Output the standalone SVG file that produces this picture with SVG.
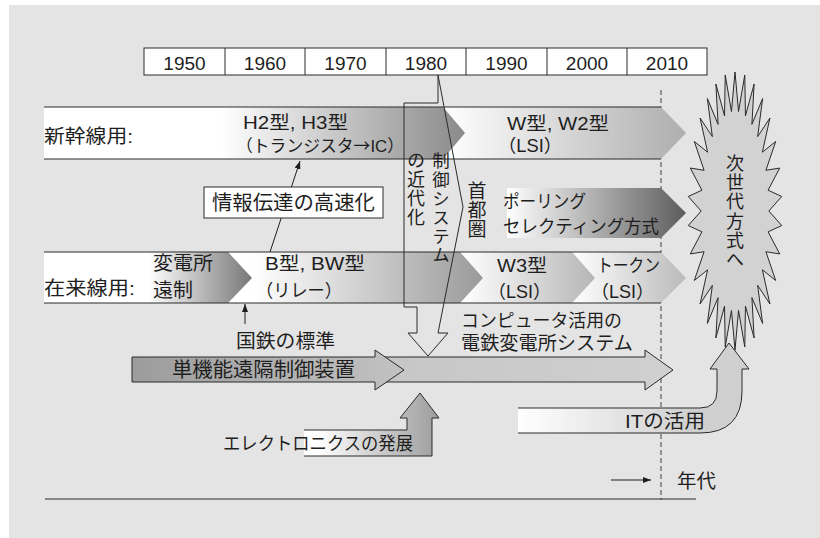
<svg xmlns="http://www.w3.org/2000/svg" width="820" height="538" viewBox="0 0 820 538">
<style>
text{font-family:"Liberation Sans","Noto Sans CJK JP",sans-serif;fill:#1e1e1e}
.y{font-size:19px;text-anchor:middle}
.t17{font-size:17px}
.t18{font-size:18px}
.t19{font-size:19px}
.t20{font-size:20px}
.v{writing-mode:vertical-rl;font-family:"Noto Sans CJK JP",sans-serif}
.cjk{font-family:"Noto Sans CJK JP",sans-serif}
.edge{stroke:#2a2a2a;stroke-width:1;fill:none}
.ol{stroke:#2a2a2a;stroke-width:1}
</style>
<defs>
<linearGradient id="g1" gradientUnits="userSpaceOnUse" x1="44" y1="0" x2="465" y2="0"><stop offset="0.42" stop-color="#fff"/><stop offset="1" stop-color="#8a8a8a"/></linearGradient>
<linearGradient id="g2" gradientUnits="userSpaceOnUse" x1="443" y1="0" x2="686" y2="0"><stop offset="0" stop-color="#fff"/><stop offset="1" stop-color="#aeaeae"/></linearGradient>
<linearGradient id="g3" gradientUnits="userSpaceOnUse" x1="44" y1="0" x2="252" y2="0"><stop offset="0.5" stop-color="#fff"/><stop offset="1" stop-color="#777"/></linearGradient>
<linearGradient id="g4" gradientUnits="userSpaceOnUse" x1="228" y1="0" x2="483" y2="0"><stop offset="0.1" stop-color="#fff"/><stop offset="1" stop-color="#9a9a9a"/></linearGradient>
<linearGradient id="g5" gradientUnits="userSpaceOnUse" x1="460" y1="0" x2="595" y2="0"><stop offset="0.05" stop-color="#fcfcfc"/><stop offset="1" stop-color="#b6b6b6"/></linearGradient>
<linearGradient id="g6" gradientUnits="userSpaceOnUse" x1="572" y1="0" x2="686" y2="0"><stop offset="0.05" stop-color="#fcfcfc"/><stop offset="1" stop-color="#bababa"/></linearGradient>
<linearGradient id="g7" gradientUnits="userSpaceOnUse" x1="507" y1="0" x2="686" y2="0"><stop offset="0" stop-color="#fff"/><stop offset="1" stop-color="#5c5c5c"/></linearGradient>
<linearGradient id="g8" gradientUnits="userSpaceOnUse" x1="132" y1="0" x2="404" y2="0"><stop offset="0" stop-color="#9c9c9c"/><stop offset="1" stop-color="#c2c2c2"/></linearGradient>
<linearGradient id="g9" gradientUnits="userSpaceOnUse" x1="375" y1="0" x2="673" y2="0"><stop offset="0" stop-color="#c6c6c6"/><stop offset="1" stop-color="#d0d0d0"/></linearGradient>
<linearGradient id="g10" gradientUnits="userSpaceOnUse" x1="518" y1="0" x2="749" y2="0"><stop offset="0" stop-color="#fff"/><stop offset="0.75" stop-color="#d0d0d0"/><stop offset="1" stop-color="#cfcfcf"/></linearGradient>
<linearGradient id="g11" gradientUnits="userSpaceOnUse" x1="304" y1="0" x2="439" y2="0"><stop offset="0.1" stop-color="#fff"/><stop offset="1" stop-color="#9c9c9c"/></linearGradient>
<marker id="ah" viewBox="0 0 8 6" refX="8" refY="3" markerWidth="8" markerHeight="6" markerUnits="userSpaceOnUse" orient="auto"><path d="M0,0 L8,3 L0,6 z" fill="#1e1e1e"/></marker>
</defs>

<rect x="0" y="0" width="820" height="538" fill="#fff"/>
<rect x="9" y="5" width="811" height="533" fill="#e4e4e4"/>

<line x1="661" y1="90" x2="661" y2="500" stroke="#444" stroke-width="1" stroke-dasharray="5,3"/>

<g id="shinkansen-band">
<polygon points="443,107 661,107 686,133 661,159 443,159" fill="url(#g2)"/>
<polygon points="44,107 443,107 465,133 443,159 44,159" fill="url(#g1)"/>
<line class="edge" x1="44" y1="107" x2="661" y2="107"/>
<line class="edge" x1="44" y1="159" x2="661" y2="159"/>
<text class="t19" x="44" y="143" textLength="89" lengthAdjust="spacingAndGlyphs">新幹線用:</text>
<text class="t18" x="243" y="129" textLength="105" lengthAdjust="spacingAndGlyphs">H2型, H3型</text>
<text class="t17" x="236" y="152" textLength="168" lengthAdjust="spacingAndGlyphs">（トランジスタ<tspan class="cjk">→</tspan>IC）</text>
<text class="t18" x="507" y="130" textLength="102" lengthAdjust="spacingAndGlyphs">W型, W2型</text>
<text class="t18" x="498" y="152" textLength="64" lengthAdjust="spacingAndGlyphs">（LSI）</text>
</g>

<g id="shutoken-band">
<polygon points="507,188 661,188 686,213 661,238 507,238" fill="url(#g7)"/>
<text class="t18" x="503" y="208" textLength="83" lengthAdjust="spacingAndGlyphs">ポーリング</text>
<text class="t18" x="503" y="233" textLength="156" lengthAdjust="spacingAndGlyphs">セレクティング方式</text>
</g>

<g id="zairaisen-band">
<polygon points="572,252 661,252 686,278 661,303 572,303" fill="url(#g6)"/>
<polygon points="460,252 572,252 595,278 572,303 460,303" fill="url(#g5)"/>
<polygon points="228,252 460,252 483,278 460,303 228,303" fill="url(#g4)"/>
<polygon points="44,252 228,252 252,278 228,303 44,303" fill="url(#g3)"/>
<line class="edge" x1="44" y1="252" x2="661" y2="252"/>
<line class="edge" x1="44" y1="303" x2="661" y2="303"/>
<text class="t19" x="44" y="295" textLength="91" lengthAdjust="spacingAndGlyphs">在来線用:</text>
<text class="t19" x="153" y="270" textLength="60" lengthAdjust="spacingAndGlyphs">変電所</text>
<text class="t19" x="153" y="297" textLength="40" lengthAdjust="spacingAndGlyphs">遠制</text>
<text class="t18" x="265" y="270" textLength="100" lengthAdjust="spacingAndGlyphs">B型, BW型</text>
<text class="t18" x="256" y="297" textLength="86" lengthAdjust="spacingAndGlyphs">（リレー）</text>
<text class="t18" x="497" y="272" textLength="50" lengthAdjust="spacingAndGlyphs">W3型</text>
<text class="t18" x="488" y="298" textLength="63" lengthAdjust="spacingAndGlyphs">（LSI）</text>
<text class="t18" x="597" y="272" textLength="63" lengthAdjust="spacingAndGlyphs">トークン</text>
<text class="t18" x="591" y="298" textLength="63" lengthAdjust="spacingAndGlyphs">（LSI）</text>
</g>

<g id="next-gen">
<polygon transform="translate(735,211) scale(47,139)" vector-effect="non-scaling-stroke" fill="#d2d2d2" stroke="#2a2a2a" stroke-width="1" points="0.72,0 0.9945,0.1045 0.7042,0.1497 0.9511,0.309 0.6577,0.2928 0.866,0.5 0.5825,0.4232 0.7431,0.6691 0.4818,0.535 0.5878,0.809 0.36,0.6235 0.4067,0.9135 0.2225,0.6848 0.2079,0.9781 0.0752,0.716 0,1 -0.0752,0.716 -0.2079,0.9781 -0.2225,0.6848 -0.4067,0.9135 -0.36,0.6235 -0.5878,0.809 -0.4818,0.535 -0.7431,0.6691 -0.5825,0.4232 -0.866,0.5 -0.6577,0.2928 -0.9511,0.309 -0.7042,0.1497 -0.9945,0.1045 -0.72,0 -0.9945,-0.1045 -0.7042,-0.1497 -0.9511,-0.309 -0.6577,-0.2928 -0.866,-0.5 -0.5825,-0.4232 -0.7431,-0.6691 -0.4818,-0.535 -0.5878,-0.809 -0.36,-0.6235 -0.4067,-0.9135 -0.2225,-0.6848 -0.2079,-0.9781 -0.0752,-0.716 0,-1 0.0752,-0.716 0.2079,-0.9781 0.2225,-0.6848 0.4067,-0.9135 0.36,-0.6235 0.5878,-0.809 0.4818,-0.535 0.7431,-0.6691 0.5825,-0.4232 0.866,-0.5 0.6577,-0.2928 0.9511,-0.309 0.7042,-0.1497 0.9945,-0.1045"/>
<text class="v" x="735" y="154" style="font-size:18px;letter-spacing:1.3px">次世代方式へ</text>
</g>

<g id="it-arrow">
<path d="M518,408 L700,408 Q717,408 717,391 L717,369 L710,369 L729,343 L749,369 L742,369 L742,391 Q742,433 700,433 L518,433" fill="url(#g10)" stroke="none"/>
<path class="edge" d="M518,408 L700,408 Q717,408 717,391 L717,369 L710,369 L729,343 L749,369 L742,369 L742,391 Q742,433 700,433 L518,433"/>
<text class="t19" x="625" y="428" textLength="80" lengthAdjust="spacingAndGlyphs">ITの活用</text>
</g>

<g id="computer-arrow">
<polygon class="ol" points="375,357 645,357 645,350 673,370 645,390 645,382 375,382" fill="url(#g9)"/>
<text class="t18" x="461" y="327" textLength="161" lengthAdjust="spacingAndGlyphs">コンピュータ活用の</text>
<text class="t19" x="461" y="350" textLength="172" lengthAdjust="spacingAndGlyphs">電鉄変電所システム</text>
</g>

<g id="single-function-arrow">
<polygon class="ol" points="132,357 375,357 375,350 404,370 375,390 375,382 132,382" fill="url(#g8)"/>
<text class="t20" x="172" y="377" textLength="183" lengthAdjust="spacingAndGlyphs">単機能遠隔制御装置</text>
</g>

<g id="electronics-arrow">
<path d="M304,430 L407,430 L407,418 L400,418 L420,393 L439,418 L432,418 L432,456 L304,456" fill="url(#g11)" stroke="none"/>
<path class="edge" d="M304,430 L407,430 L407,418 L400,418 L420,393 L439,418 L432,418 L432,456 L304,456"/>
<text class="t18" x="223" y="450" textLength="190" lengthAdjust="spacingAndGlyphs">エレクトロニクスの発展</text>
</g>

<g id="control-modernization">
<polygon class="edge" points="438,75 463,207 438,333 448,333 428,356 408,333 417,333 417,307 404,307 404,103 438,103"/>
<text class="v" x="416" y="151" style="font-size:18px;letter-spacing:1px">の近代化</text>
<text class="v" x="441" y="152" style="font-size:17.5px;letter-spacing:1.3px">制御システム</text>
<text class="v" x="477" y="181" style="font-size:19px">首都圏</text>
</g>

<g id="connectors">
<line x1="270" y1="252" x2="300" y2="161" stroke="#1e1e1e" stroke-width="1" marker-end="url(#ah)"/>
<line x1="245" y1="324" x2="245" y2="304" stroke="#1e1e1e" stroke-width="1" marker-end="url(#ah)"/>
<line x1="611" y1="480" x2="651" y2="480" stroke="#1e1e1e" stroke-width="1" marker-end="url(#ah)"/>
</g>

<g id="speedup-label">
<rect x="204" y="187" width="179" height="31" fill="#fff" stroke="#2a2a2a" stroke-width="1"/>
<text class="t20" x="212" y="210" textLength="163" lengthAdjust="spacingAndGlyphs">情報伝達の高速化</text>
</g>

<g id="jnr-standard">
<text class="t19" x="236" y="348" textLength="99" lengthAdjust="spacingAndGlyphs">国鉄の標準</text>
</g>

<g id="timeline">
<rect x="144" y="48" width="563" height="27" fill="#fff" stroke="#2a2a2a" stroke-width="1"/>
<g stroke="#2a2a2a" stroke-width="1">
<line x1="225" y1="48" x2="225" y2="75"/><line x1="305" y1="48" x2="305" y2="75"/><line x1="386" y1="48" x2="386" y2="75"/><line x1="466" y1="48" x2="466" y2="75"/><line x1="547" y1="48" x2="547" y2="75"/><line x1="627" y1="48" x2="627" y2="75"/>
</g>
<text class="y" x="184.5" y="69.5">1950</text>
<text class="y" x="265" y="69.5">1960</text>
<text class="y" x="345.5" y="69.5">1970</text>
<text class="y" x="426" y="69.5">1980</text>
<text class="y" x="506.5" y="69.5">1990</text>
<text class="y" x="587" y="69.5">2000</text>
<text class="y" x="667" y="69.5">2010</text>
</g>

<g id="axis">
<line x1="45" y1="499" x2="696" y2="499" stroke="#2a2a2a" stroke-width="1.2"/>
<text class="t19" x="677" y="488" textLength="39" lengthAdjust="spacingAndGlyphs">年代</text>
</g>
</svg>
